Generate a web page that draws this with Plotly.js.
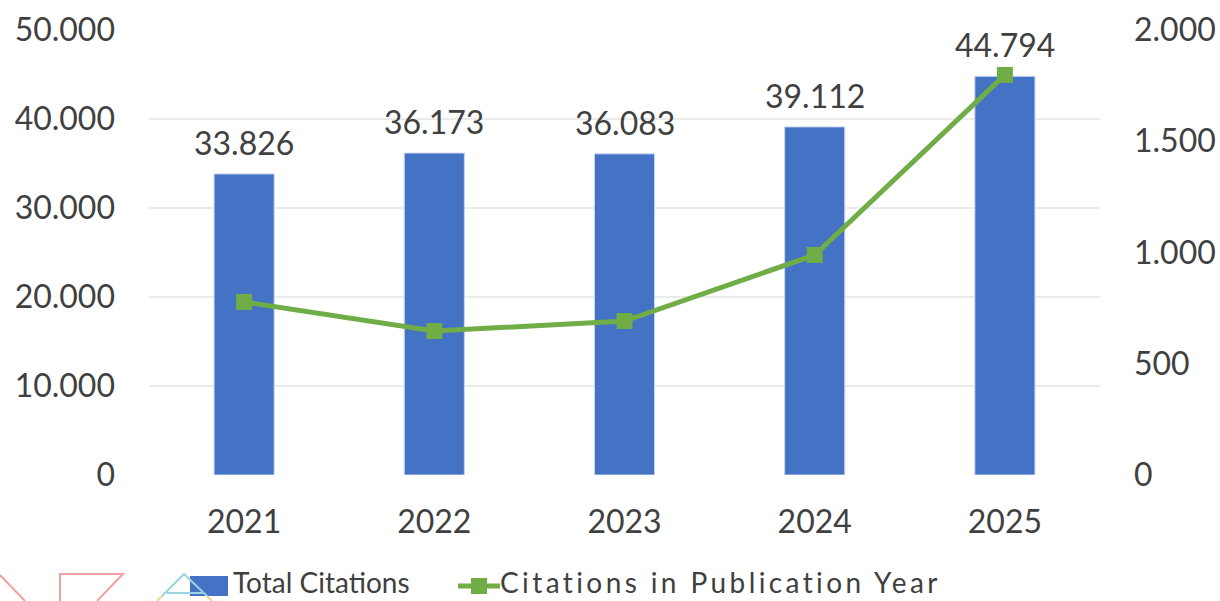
<!DOCTYPE html>
<html><head><meta charset="utf-8">
<script src="https://cdn.plot.ly/plotly-3.0.1.min.js"></script>
<style>html,body{margin:0;padding:0;background:#fff;}#chart{width:1220px;height:601px;}</style>
</head><body><div id="chart"></div>
<script>
const years = ['2021', '2022', '2023', '2024', '2025'];
const totalCitations = [33826, 36173, 36083, 39112, 44794];
const citationsInPubYear = [778, 647, 692, 989, 1798];
const seriesNames = ['Total Citations', 'Citations in Publication Year'];

const FONT = 'Lato, "Open Sans", sans-serif';
const TXT = '#404040';
const BLUE = '#4472C4';
const GREEN = '#70AD47';

// plot area geometry (pixels) used to place the hand-drawn legend
const M = {l: 149, r: 120, t: 30, b: 126};
const W = 1220, H = 601;
const PW = W - M.l - M.r, PH = H - M.t - M.b;
const X = px => (px - M.l) / PW;
const Y = py => (H - M.b - py) / PH;

const fmt = v => String(Math.round(v)).replace(/\B(?=(\d{3})+(?!\d))/g, '.');

const data = [
  {
    type: 'bar', name: seriesNames[0], x: years, y: totalCitations,
    marker: {color: BLUE, line: {color: '#C9D5EE', width: 1}},
    showlegend: false
  },
  {
    type: 'scatter', mode: 'lines+markers', name: seriesNames[1], x: years, y: citationsInPubYear,
    yaxis: 'y2',
    line: {color: GREEN, width: 5},
    marker: {symbol: 'square', size: 16, color: GREEN},
    cliponaxis: false, showlegend: false
  }
];

const shapes = [
  // legend: Total Citations
  {type: 'rect', xref: 'paper', yref: 'paper', x0: X(190), x1: X(228), y0: Y(596), y1: Y(576),
   fillcolor: BLUE, line: {width: 0}},
  // legend: Citations in Publication Year
  {type: 'line', xref: 'paper', yref: 'paper', x0: X(458), x1: X(500), y0: Y(586), y1: Y(586),
   line: {color: GREEN, width: 5}},
  {type: 'rect', xref: 'paper', yref: 'paper', x0: X(471), x1: X(487), y0: Y(594), y1: Y(578),
   fillcolor: GREEN, line: {width: 0}},
  // faint cropped icons in bottom-left corner
  {type: 'line', xref: 'paper', yref: 'paper', x0: X(0), y0: Y(575), x1: X(25), y1: Y(601),
   line: {color: '#F2A0A0', width: 2}},
  {type: 'path', xref: 'paper', yref: 'paper',
   path: `M${X(60)},${Y(601)} L${X(60)},${Y(574)} L${X(123)},${Y(574)} L${X(97)},${Y(601)}`,
   line: {color: '#F2A0A0', width: 2}},
  {type: 'path', xref: 'paper', yref: 'paper',
   path: `M${X(162)},${Y(596)} L${X(184)},${Y(574)} L${X(207)},${Y(596)}`,
   line: {color: '#9CD3E0', width: 2}},
  {type: 'line', xref: 'paper', yref: 'paper', x0: X(167), y0: Y(593), x1: X(203), y1: Y(593),
   line: {color: '#9CD3E0', width: 2}},
  {type: 'path', xref: 'paper', yref: 'paper',
   path: `M${X(162)},${Y(596)} L${X(157)},${Y(601)} M${X(207)},${Y(596)} L${X(212)},${Y(601)}`,
   line: {color: '#F5D38A', width: 2}}
];

const annotations = [
  {xref: 'paper', yref: 'paper', x: X(231), y: Y(582), xanchor: 'left', yanchor: 'middle',
   text: seriesNames[0], showarrow: false, font: {family: FONT, size: 28, color: TXT}},
  {xref: 'paper', yref: 'paper', x: X(498), y: Y(582), xanchor: 'left', yanchor: 'middle',
   text: '<span style="letter-spacing:3.4px">' + seriesNames[1] + '</span>', showarrow: false,
   font: {family: FONT, size: 28, color: TXT}}
];

// data labels above the bars, positioned through the axes (category index on x)
years.forEach((yr, i) => {
  annotations.push({
    xref: 'x', yref: 'y', x: i, y: totalCitations[i], xanchor: 'center', yanchor: 'bottom',
    yshift: 10, text: fmt(totalCitations[i]), showarrow: false,
    font: {family: FONT, size: 32, color: TXT}
  });
});

const layout = {
  width: W, height: H,
  margin: {l: M.l, r: M.r, t: M.t, b: M.b, autoexpand: false},
  paper_bgcolor: '#fff', plot_bgcolor: '#fff',
  separators: ',.',
  bargap: 0.684,
  showlegend: false,
  font: {family: FONT, color: TXT, size: 32},
  xaxis: {
    type: 'category', range: [-0.5, years.length - 0.5], autorange: false,
    showgrid: false, zeroline: false, showline: false,
    ticks: '', tickfont: {family: FONT, size: 32, color: TXT},
    ticklabelstandoff: 25
  },
  yaxis: {
    range: [0, 50000], dtick: 10000, tickformat: ',.0f',
    showgrid: true, gridcolor: '#EBEBEB', gridwidth: 2,
    zeroline: false, showline: false, ticks: '',
    tickfont: {family: FONT, size: 32, color: TXT},
    ticklabelstandoff: 33
  },
  yaxis2: {
    overlaying: 'y', side: 'right', range: [0, 2000], dtick: 500, tickformat: ',.0f',
    showgrid: false, zeroline: false, showline: false, ticks: '',
    tickfont: {family: FONT, size: 32, color: TXT},
    ticklabelstandoff: 33
  },
  shapes: shapes,
  annotations: annotations
};

Plotly.newPlot('chart', data, layout, {displayModeBar: false, staticPlot: true});
</script>
</body></html>
